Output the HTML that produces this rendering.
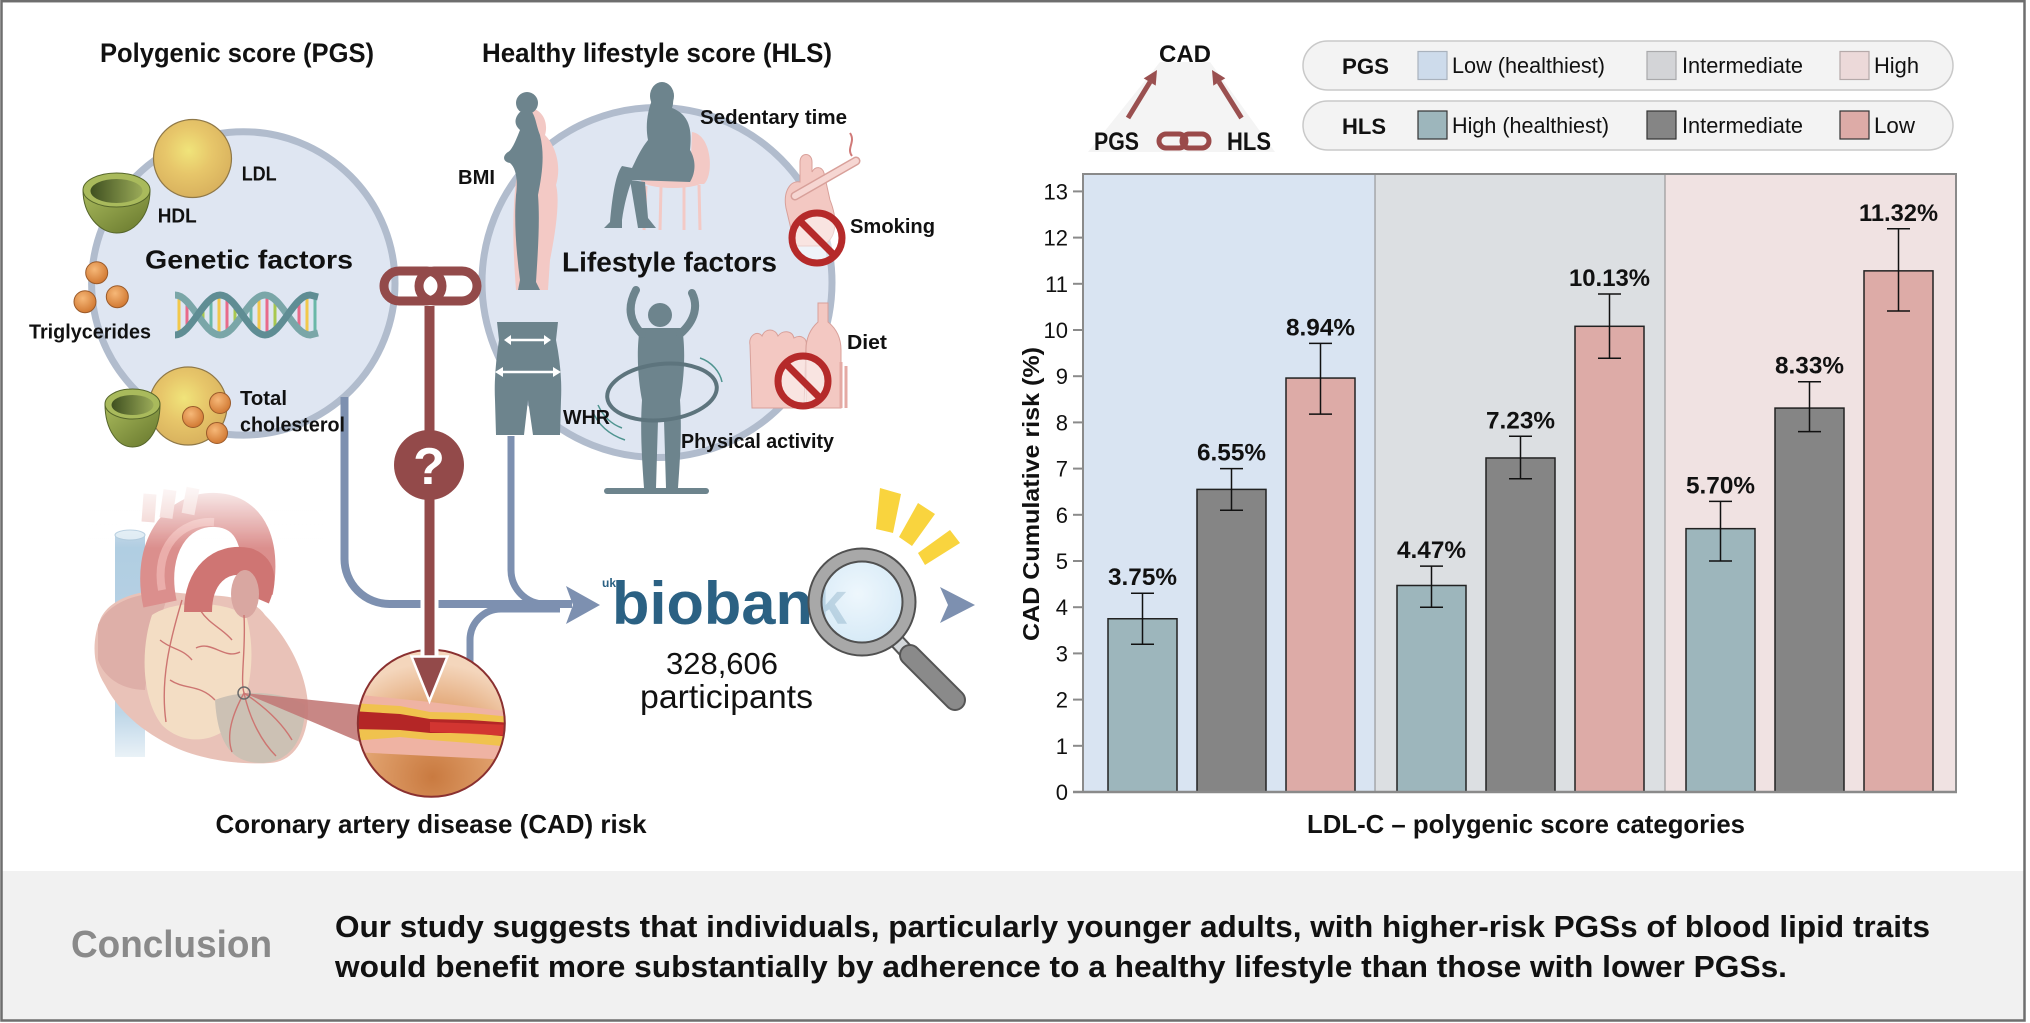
<!DOCTYPE html>
<html><head><meta charset="utf-8">
<style>
html,body{margin:0;padding:0;background:#fff;}
svg{display:block;}
text{font-family:"Liberation Sans",Arial,sans-serif;}
</style></head>
<body>
<svg width="2030" height="1023" viewBox="0 0 2030 1023" xmlns="http://www.w3.org/2000/svg">
<defs>
  <radialGradient id="ldl" cx="45%" cy="40%" r="60%">
    <stop offset="0" stop-color="#f0e47a"/><stop offset="0.5" stop-color="#e7c66a"/><stop offset="1" stop-color="#d9b25e"/>
  </radialGradient>
  <radialGradient id="orb" cx="40%" cy="35%" r="65%">
    <stop offset="0" stop-color="#f6b878"/><stop offset="1" stop-color="#d27a34"/>
  </radialGradient>
  <linearGradient id="bowl" x1="0" y1="0" x2="1" y2="1">
    <stop offset="0" stop-color="#a9ba5c"/><stop offset="1" stop-color="#66762c"/>
  </linearGradient>
  <linearGradient id="bowlIn" x1="0" y1="0" x2="1" y2="0">
    <stop offset="0" stop-color="#3f5020"/><stop offset="1" stop-color="#9aaa58"/>
  </linearGradient>
  <radialGradient id="art" cx="50%" cy="85%" r="75%">
    <stop offset="0" stop-color="#c97a40"/><stop offset="0.55" stop-color="#e0a06c"/><stop offset="1" stop-color="#f4d6bc"/>
  </radialGradient>
  <linearGradient id="fade" x1="0" y1="0" x2="0" y2="1">
    <stop offset="0" stop-color="#fff" stop-opacity="1"/><stop offset="1" stop-color="#fff" stop-opacity="0"/>
  </linearGradient>
  <linearGradient id="vc" x1="0" y1="0" x2="0" y2="1">
    <stop offset="0" stop-color="#a9c9df"/><stop offset="0.8" stop-color="#b8d3e6"/><stop offset="1" stop-color="#e8f1f7"/>
  </linearGradient>
  <radialGradient id="lens" cx="45%" cy="40%" r="60%">
    <stop offset="0" stop-color="#eaf5fc"/><stop offset="1" stop-color="#cfe6f5"/>
  </radialGradient>
  <clipPath id="artClip"><circle cx="431.3" cy="723.3" r="73.5"/></clipPath>
</defs>

<rect width="2030" height="1023" fill="#fff"/>

<!-- ===== Conclusion band ===== -->
<rect x="2" y="871" width="2022" height="149" fill="#f1f1f1"/>
<text x="71" y="957" font-size="38" font-weight="bold" fill="#8a8a8a" textLength="201" lengthAdjust="spacingAndGlyphs">Conclusion</text>
<text x="335" y="937" font-size="31" font-weight="bold" fill="#111" textLength="1595" lengthAdjust="spacingAndGlyphs">Our study suggests that individuals, particularly younger adults, with higher-risk PGSs of blood lipid traits</text>
<text x="335" y="977" font-size="31" font-weight="bold" fill="#111" textLength="1452" lengthAdjust="spacingAndGlyphs">would benefit more substantially by adherence to a healthy lifestyle than those with lower PGSs.</text>

<!-- frame -->
<rect x="1.5" y="1.2" width="2023" height="1019.3" fill="none" stroke="#6e6e6e" stroke-width="2.5"/>

<!-- ===== Left illustration ===== -->
<text x="100" y="62" font-size="27" font-weight="bold" fill="#111" textLength="274" lengthAdjust="spacingAndGlyphs">Polygenic score (PGS)</text>
<text x="482" y="62" font-size="27" font-weight="bold" fill="#111" textLength="350" lengthAdjust="spacingAndGlyphs">Healthy lifestyle score (HLS)</text>

<!-- circles -->
<circle cx="243.3" cy="283.4" r="151.7" fill="#dfe6f2" stroke="#b1bccd" stroke-width="7"/>
<circle cx="657" cy="282.5" r="175" fill="#dfe6f2" stroke="#b1bccd" stroke-width="7"/>

<!-- blue connectors -->
<g fill="none" stroke="#7d90b0" stroke-linecap="butt">
  <path d="M344.5 397 L344.5 559 A45 45 0 0 0 389.5 604 L572 604" stroke-width="8"/>
  <path d="M511 436 L511 570 A34 34 0 0 0 545 604" stroke-width="7"/>
  <path d="M470 662 L470 640 A31 31 0 0 1 501 609 L560 609" stroke-width="7"/>
</g>
<polygon points="566,586 600,605 566,624 573,605" fill="#7d90b0"/>

<!-- heart -->
<g opacity="0.92">
  <rect x="115" y="535" width="30" height="222" fill="url(#vc)"/>
  <ellipse cx="130" cy="535" rx="15" ry="5" fill="#d8e8f2" stroke="#9fbfd6" stroke-width="1"/>
  <path d="M100 620 C110 595,150 588,170 592 L200 595 C230 595,255 600,265 615 C290 640,310 680,308 715 C305 745,290 762,270 763 C240 765,200 760,170 745 C140 730,118 710,105 685 C92 665,92 640,100 620 Z" fill="#e8bdb3"/>
  <path d="M98 625 C110 598,150 590,168 595 C160 620,150 650,145 690 C125 690,105 680,98 660 Z" fill="#dca9a1"/>
  <path d="M152 615 C175 600,220 600,246 615 C256 650,252 690,236 720 C215 745,182 745,162 725 C142 700,140 650,152 615 Z" fill="#f2dbc0"/>
  <path d="M215 700 C240 690,280 690,305 705 C305 740,290 762,262 763 C236 763,218 750,215 700 Z" fill="#c8bcae"/>
  <path d="M160 604 C148 548,176 508,216 510 C252 512,264 546,256 592" fill="none" stroke="#d98684" stroke-width="34"/>
  <path d="M162 590 C154 548,180 520,214 522" fill="none" stroke="#eaa8a4" stroke-width="8"/>
  <path d="M198 612 C198 576,220 556,248 562 C264 568,262 584,256 598" fill="none" stroke="#cc6a68" stroke-width="28"/>
  <path d="M148 522 L150 494 M166 518 L170 490 M188 514 L193 488" stroke="#eec4c0" stroke-width="13" fill="none"/>
  <ellipse cx="245" cy="594" rx="14" ry="24" fill="#d6a09a"/>
  <g fill="none" stroke="#c96a66" stroke-width="1.4">
    <path d="M182 600 C170 640,160 680,166 722"/>
    <path d="M244 615 C246 650,240 680,244 693 C250 720,262 742,276 756"/>
    <path d="M196 648 C212 640,224 660,240 652"/>
    <path d="M170 680 C185 690,200 684,215 700"/>
    <path d="M244 693 C232 715,226 735,232 752"/>
    <path d="M244 693 C262 705,280 720,292 740"/>
    <path d="M200 610 C210 625,222 628,232 640"/>
    <path d="M160 640 C172 650,182 648,192 660"/>
  </g>
  <rect x="88" y="478" width="235" height="70" fill="url(#fade)"/>
</g>
<!-- zoom funnel -->
<polygon points="244,693 360,705 360,742" fill="#c27a78" opacity="0.9"/>
<circle cx="244" cy="693" r="6" fill="none" stroke="#6a6a6a" stroke-width="1.5"/>

<!-- artery circle -->
<g clip-path="url(#artClip)">
  <rect x="355" y="648" width="155" height="152" fill="url(#art)"/>
  <polygon points="352,694 430,702 512,712 512,760 430,756 352,752" fill="#efb3a3"/>
  <polygon points="352,703 400,706 430,712 470,713 512,717 512,747 470,743 430,740 400,737 352,741" fill="#f0c24e"/>
  <polygon points="352,711 400,714 430,719 470,720 512,723 512,737 470,733 430,733 400,730 352,729" fill="#b42626"/>
  <polygon points="430,722 512,725 512,736 430,732" fill="#d93a34" opacity="0.8"/>
</g>
<circle cx="431.3" cy="723.3" r="73.5" fill="none" stroke="#8a3030" stroke-width="2"/>

<!-- red question line -->
<line x1="429.5" y1="306" x2="429.5" y2="660" stroke="#fff" stroke-width="18"/>
<line x1="429.5" y1="306" x2="429.5" y2="662" stroke="#934a4a" stroke-width="10"/>
<polygon points="411.5,656.5 447.5,656.5 429.5,701" fill="#934a4a" stroke="#fff" stroke-width="2.5"/>
<circle cx="429" cy="465" r="35" fill="#934a4a"/>
<text x="429" y="484" font-size="52" font-weight="bold" fill="#fff" text-anchor="middle">?</text>

<!-- chain link -->
<g fill="none" stroke="#934a4a" stroke-width="9">
  <rect x="384" y="271" width="58" height="30" rx="15"/>
  <rect x="419" y="271" width="58" height="30" rx="15"/>
</g>

<!-- Genetic factor icons -->
<circle cx="192.5" cy="158.5" r="39" fill="url(#ldl)" stroke="#8f7848" stroke-width="1.2"/>
<path d="M83 190 C83 215,100 233,116.5 233 C135 233,150 215,150 190 Z" fill="url(#bowl)" stroke="#55652a" stroke-width="1"/>
<ellipse cx="116.5" cy="190" rx="33.5" ry="17" fill="#a9ba5c" stroke="#55652a" stroke-width="1"/>
<ellipse cx="116.5" cy="191" rx="26" ry="12" fill="url(#bowlIn)"/>
<circle cx="96.7" cy="272.7" r="11" fill="url(#orb)" stroke="#9a5a2a" stroke-width="1"/>
<circle cx="85" cy="301.7" r="11" fill="url(#orb)" stroke="#9a5a2a" stroke-width="1"/>
<circle cx="117.3" cy="296.7" r="11" fill="url(#orb)" stroke="#9a5a2a" stroke-width="1"/>

<!-- DNA -->
<g stroke-width="3">
  <line x1="179" y1="296" x2="179" y2="334" stroke="#f2c84b"/>
  <line x1="187" y1="302" x2="187" y2="328" stroke="#e86a8a"/>
  <line x1="203" y1="308" x2="203" y2="322" stroke="#a8c850"/>
  <line x1="211" y1="299" x2="211" y2="331" stroke="#6ab8a8"/>
  <line x1="219" y1="295" x2="219" y2="335" stroke="#f2c84b"/>
  <line x1="227" y1="297" x2="227" y2="333" stroke="#e86a8a"/>
  <line x1="235" y1="305" x2="235" y2="325" stroke="#a8c850"/>
  <line x1="251" y1="304" x2="251" y2="326" stroke="#6ab8a8"/>
  <line x1="259" y1="297" x2="259" y2="333" stroke="#f2c84b"/>
  <line x1="267" y1="295" x2="267" y2="335" stroke="#e86a8a"/>
  <line x1="275" y1="300" x2="275" y2="330" stroke="#a8c850"/>
  <line x1="299" y1="301" x2="299" y2="329" stroke="#e86a8a"/>
  <line x1="307" y1="296" x2="307" y2="334" stroke="#f2c84b"/>
  <line x1="315" y1="296" x2="315" y2="334" stroke="#6ab8a8"/>
</g>
<path d="M175 295 C191.4 295,203.6 335,220 335 C236.4 335,248.6 295,265 295 C281.4 295,293.6 335,310 335 L318 333" fill="none" stroke="#7aa6a8" stroke-width="7"/>
<path d="M175 335 C191.4 335,203.6 295,220 295 C236.4 295,248.6 335,265 335 C281.4 335,293.6 295,310 295 L318 297" fill="none" stroke="#5f8d94" stroke-width="7"/>

<!-- total cholesterol -->
<circle cx="188" cy="406" r="39" fill="url(#ldl)" stroke="#8f7848" stroke-width="1.2"/>
<path d="M105 404 C105 430,118 447,132.5 447 C148 447,160 430,160 404 Z" fill="url(#bowl)" stroke="#55652a" stroke-width="1"/>
<ellipse cx="132.5" cy="404" rx="27.5" ry="15" fill="#a9ba5c" stroke="#55652a" stroke-width="1"/>
<ellipse cx="132.5" cy="405" rx="21" ry="10" fill="url(#bowlIn)"/>
<circle cx="220" cy="403" r="10.5" fill="url(#orb)" stroke="#9a5a2a" stroke-width="1"/>
<circle cx="193" cy="417" r="10.5" fill="url(#orb)" stroke="#9a5a2a" stroke-width="1"/>
<circle cx="217" cy="433" r="10.5" fill="url(#orb)" stroke="#9a5a2a" stroke-width="1"/>

<!-- genetic labels -->
<g font-weight="bold" fill="#111">
  <text x="241.7" y="180.7" font-size="20" textLength="35" lengthAdjust="spacingAndGlyphs">LDL</text>
  <text x="157.7" y="222.7" font-size="20" textLength="39" lengthAdjust="spacingAndGlyphs">HDL</text>
  <text x="145" y="268.3" font-size="26" textLength="208" lengthAdjust="spacingAndGlyphs">Genetic factors</text>
  <text x="29" y="338.3" font-size="20" textLength="122" lengthAdjust="spacingAndGlyphs">Triglycerides</text>
  <text x="240" y="405" font-size="20" textLength="47" lengthAdjust="spacingAndGlyphs">Total</text>
  <text x="240" y="431.7" font-size="20" textLength="105" lengthAdjust="spacingAndGlyphs">cholesterol</text>
</g>

<!-- Lifestyle figures -->
<g fill="#6d848d">
  <!-- BMI -->
  <path d="M532 108 C545 112,548 125,545 135 C555 145,562 165,556 185 C560 200,556 230,550 260 L548 290 L530 290 Z" fill="#f3c9c5"/>
  <path d="M520 160 C512 190,512 240,516 290 L526 290 Z" fill="#f3c9c5"/>
  <circle cx="527" cy="103" r="11"/>
  <path d="M520 112 C514 118,514 125,520 130 C516 140,512 150,508 152 C502 156,503 162,510 163 C516 168,518 180,516 195 C514 220,516 250,520 280 L518 290 L540 290 L536 282 C538 250,540 220,538 195 C542 175,545 155,540 135 C536 125,536 118,532 112 Z"/>
  <!-- chair -->
  <path d="M692 132 C712 135,714 175,704 184 L690 184 Z" fill="#f3c9c5"/>
  <ellipse cx="673" cy="180" rx="32" ry="8" fill="#f3c9c5"/>
  <g stroke="#f3c9c5" stroke-width="3"><line x1="646" y1="186" x2="644" y2="230"/><line x1="661" y1="187" x2="660" y2="230"/><line x1="684" y1="187" x2="684" y2="230"/><line x1="699" y1="185" x2="700" y2="230"/></g>
  <!-- sitting woman -->
  <ellipse cx="662" cy="96" rx="12" ry="14"/>
  <path d="M652 100 C648 110,645 125,648 140 C640 150,636 160,632 168 L622 166 C615 175,612 200,610 222 L604 228 L622 228 L622 220 C624 205,628 190,632 180 L690 182 C696 172,696 160,690 150 C692 130,690 115,672 108 C675 100,672 90,665 84 C655 82,650 90,652 100 Z"/>
  <path d="M630 180 L638 228 L656 228 L648 218 L645 182 Z"/>
  <!-- WHR shorts -->
  <path d="M497 322 L558 322 L556 340 C560 360,562 380,561 400 L560 435 L533 435 L528 400 L524 435 L496 435 L495 400 C494 380,496 360,499 340 Z"/>
  <!-- hula -->
  <rect x="604" y="488" width="105" height="6" rx="3"/>
  <circle cx="660" cy="315" r="12"/>
  <path d="M640 328 C636 350,638 380,642 400 C640 430,642 460,644 488 L656 488 L658 420 L664 420 L666 488 L678 488 C680 460,682 430,680 400 C684 380,686 350,682 328 Z"/>
  <path d="M642 334 C628 320,628 305,636 290 M680 334 C696 320,698 305,692 293" fill="none" stroke="#6d848d" stroke-width="8" stroke-linecap="round"/>
  <ellipse cx="662" cy="392" rx="55" ry="28" fill="none" stroke="#5d747d" stroke-width="4" transform="rotate(-6 662 392)"/>
  <path d="M592 410 C598 425,610 435,625 440 M598 405 C603 416,611 424,622 428 M700 358 C712 362,720 372,722 382" fill="none" stroke="#4f9490" stroke-width="1.5"/>
</g>
<g stroke="#fff" stroke-width="2.5" fill="#fff">
  <line x1="509" y1="340" x2="546" y2="340"/>
  <polygon points="504,340 511,335 511,345" stroke="none"/><polygon points="551,340 544,335 544,345" stroke="none"/>
  <line x1="500" y1="372" x2="556" y2="372"/>
  <polygon points="495,372 503,367 503,377" stroke="none"/><polygon points="561,372 553,367 553,377" stroke="none"/>
</g>

<!-- smoking -->
<path d="M786 208 C783 192,790 180,800 182 L800 162 C800 152,812 152,812 162 L812 172 C815 166,822 166,824 173 L830 200 C836 215,840 240,820 246 L795 246 Z" fill="#f3c8c2" stroke="#d8a09a" stroke-width="1"/>
<line x1="795" y1="196" x2="856" y2="161" stroke="#d8a09a" stroke-width="9" stroke-linecap="round"/>
<line x1="795" y1="196" x2="856" y2="161" stroke="#f6d6d2" stroke-width="6" stroke-linecap="round"/>
<path d="M852 156 C846 148,856 142,850 133" fill="none" stroke="#d07a78" stroke-width="2"/>
<circle cx="817" cy="238" r="25" fill="#fff" fill-opacity="0.5" stroke="#b52a2a" stroke-width="7"/>
<line x1="800" y1="221" x2="834" y2="255" stroke="#b52a2a" stroke-width="7"/>

<!-- diet -->
<path d="M750 345 C748 335,758 330,762 336 C765 328,775 328,778 336 C782 330,792 330,794 338 C800 334,808 338,806 346 L804 408 L752 408 Z" fill="#f3c8c2" stroke="#d8a09a" stroke-width="1"/>
<path d="M818 303 L828 303 L828 322 C838 330,841 340,841 350 L841 408 L806 408 L806 350 C806 340,809 330,818 322 Z" fill="#f3c8c2" stroke="#d8a09a" stroke-width="1"/>
<g stroke="#e4aaa4" stroke-width="3"><line x1="841" y1="362" x2="841" y2="408"/><line x1="846" y1="366" x2="846" y2="408"/></g>
<circle cx="803" cy="381" r="25" fill="#fff" fill-opacity="0.5" stroke="#b52a2a" stroke-width="7"/>
<line x1="786" y1="364" x2="820" y2="398" stroke="#b52a2a" stroke-width="7"/>

<!-- lifestyle labels -->
<g font-weight="bold" fill="#111">
  <text x="458" y="184" font-size="20" textLength="37" lengthAdjust="spacingAndGlyphs">BMI</text>
  <text x="700" y="124" font-size="20" textLength="147" lengthAdjust="spacingAndGlyphs">Sedentary time</text>
  <text x="850" y="233" font-size="20" textLength="85" lengthAdjust="spacingAndGlyphs">Smoking</text>
  <text x="562" y="271.7" font-size="28" textLength="215" lengthAdjust="spacingAndGlyphs">Lifestyle factors</text>
  <text x="847" y="349" font-size="20" textLength="40" lengthAdjust="spacingAndGlyphs">Diet</text>
  <text x="563" y="424" font-size="20" textLength="47" lengthAdjust="spacingAndGlyphs">WHR</text>
  <text x="681" y="448" font-size="20" textLength="153" lengthAdjust="spacingAndGlyphs">Physical activity</text>
  <text x="215.5" y="833" font-size="26" textLength="431" lengthAdjust="spacingAndGlyphs">Coronary artery disease (CAD) risk</text>
</g>

<!-- biobank -->
<text x="602" y="587" font-size="12" font-weight="bold" fill="#2b6183">uk</text>
<text x="612" y="624" font-size="60" font-weight="bold" fill="#2b6183" textLength="235" lengthAdjust="spacingAndGlyphs">biobank</text>
<text x="666" y="674" font-size="31" fill="#111" textLength="112" lengthAdjust="spacingAndGlyphs">328,606</text>
<text x="640" y="708" font-size="33" fill="#111" textLength="173" lengthAdjust="spacingAndGlyphs">participants</text>

<!-- magnifier -->
<polygon points="880,488 901,494 893,533 876,529" fill="#f9d43e"/>
<polygon points="918,503 935,514 912,546 899,537" fill="#f9d43e"/>
<polygon points="950,530 960,543 925,565 918,553" fill="#f9d43e"/>
<line x1="893" y1="637" x2="906" y2="651" stroke="#555" stroke-width="16"/>
<line x1="893" y1="637" x2="906" y2="651" stroke="#d3d7da" stroke-width="12"/>
<line x1="910" y1="655" x2="955" y2="700" stroke="#555" stroke-width="22" stroke-linecap="round"/>
<line x1="910" y1="655" x2="955" y2="700" stroke="#8a8a8a" stroke-width="18" stroke-linecap="round"/>
<circle cx="862" cy="602" r="40" fill="url(#lens)" fill-opacity="0.82"/>
<circle cx="862" cy="602" r="47" fill="none" stroke="#a8a8a8" stroke-width="13"/>
<circle cx="862" cy="602" r="53.5" fill="none" stroke="#505050" stroke-width="2"/>
<circle cx="862" cy="602" r="40.5" fill="none" stroke="#505050" stroke-width="2"/>
<polygon points="940,587 975,605 940,623 948,605" fill="#7d90b0"/>

<!-- ===== Right: CAD triangle & legend ===== -->
<polygon points="1160,62 1210,62 1275,152 1088,152" fill="#f4f4f4"/>
<text x="1185" y="62" font-size="24" font-weight="bold" fill="#111" text-anchor="middle" textLength="52" lengthAdjust="spacingAndGlyphs">CAD</text>
<text x="1094" y="150" font-size="25" font-weight="bold" fill="#111" textLength="45" lengthAdjust="spacingAndGlyphs">PGS</text>
<text x="1227" y="150" font-size="25" font-weight="bold" fill="#111" textLength="44" lengthAdjust="spacingAndGlyphs">HLS</text>
<g stroke="#9a5050" stroke-width="5" fill="none">
  <line x1="1128" y1="118" x2="1150" y2="82"/>
  <line x1="1241.5" y1="118" x2="1219" y2="82"/>
</g>
<polygon points="1157,70 1155.7,85.6 1143.7,78.4" fill="#9a5050"/>
<polygon points="1212,70 1225.3,78.2 1213.3,85.6" fill="#9a5050"/>
<g fill="none" stroke="#9a4a4a" stroke-width="5">
  <rect x="1159" y="134" width="27" height="14" rx="7"/>
  <rect x="1182" y="134" width="27" height="14" rx="7"/>
</g>

<rect x="1303" y="41" width="650" height="49" rx="24.5" fill="#f3f3f3" stroke="#c9c9c9" stroke-width="1.5"/>
<rect x="1303" y="101" width="650" height="49" rx="24.5" fill="#f3f3f3" stroke="#c9c9c9" stroke-width="1.5"/>
<text x="1342" y="74" font-size="22" font-weight="bold" fill="#111" textLength="47" lengthAdjust="spacingAndGlyphs">PGS</text>
<text x="1342" y="134" font-size="22" font-weight="bold" fill="#111" textLength="44" lengthAdjust="spacingAndGlyphs">HLS</text>
<rect x="1418" y="51.5" width="29" height="28" fill="#cddbeb" stroke="#a9b2bd" stroke-width="1.2"/>
<rect x="1647" y="51.5" width="29" height="28" fill="#d3d4d7" stroke="#a9a9ab" stroke-width="1.2"/>
<rect x="1840" y="51.5" width="29" height="28" fill="#ecd9d9" stroke="#b5a9a9" stroke-width="1.2"/>
<rect x="1418" y="111" width="29" height="28" fill="#9db6bc" stroke="#333" stroke-width="1.2"/>
<rect x="1647" y="111" width="29" height="28" fill="#858585" stroke="#333" stroke-width="1.2"/>
<rect x="1840" y="111" width="29" height="28" fill="#ddaba7" stroke="#333" stroke-width="1.2"/>
<g font-size="22" fill="#111">
  <text x="1452" y="73" textLength="153" lengthAdjust="spacingAndGlyphs">Low (healthiest)</text>
  <text x="1682" y="73" textLength="121" lengthAdjust="spacingAndGlyphs">Intermediate</text>
  <text x="1874" y="73" textLength="45" lengthAdjust="spacingAndGlyphs">High</text>
  <text x="1452" y="133" textLength="157" lengthAdjust="spacingAndGlyphs">High (healthiest)</text>
  <text x="1682" y="133" textLength="121" lengthAdjust="spacingAndGlyphs">Intermediate</text>
  <text x="1874" y="133" textLength="41" lengthAdjust="spacingAndGlyphs">Low</text>
</g>

<!-- ===== Bar chart ===== -->
<rect x="1084" y="174" width="291" height="618" fill="#d9e4f2"/>
<rect x="1375" y="174" width="290" height="618" fill="#dcdfe2"/>
<rect x="1665" y="174" width="291" height="618" fill="#f0e2e2"/>
<line x1="1375" y1="174" x2="1375" y2="792" stroke="#8a8a8a" stroke-width="1"/>
<line x1="1665" y1="174" x2="1665" y2="792" stroke="#8a8a8a" stroke-width="1"/>
<line x1="1083" y1="174" x2="1956" y2="174" stroke="#8a8a8a" stroke-width="2"/>
<line x1="1956" y1="173" x2="1956" y2="792" stroke="#8a8a8a" stroke-width="2"/>
<line x1="1083" y1="173" x2="1083" y2="793" stroke="#8a8a8a" stroke-width="2"/>

<!-- bars -->
<g stroke="#222" stroke-width="1.5">
  <rect x="1108" y="618.75" width="69" height="173.25" fill="#9db6bc"/>
  <rect x="1197" y="489.39" width="69" height="302.61" fill="#858585"/>
  <rect x="1286" y="378.05" width="69" height="413.95" fill="#ddaba7"/>
  <rect x="1397" y="585.49" width="69" height="206.51" fill="#9db6bc"/>
  <rect x="1486" y="457.97" width="69" height="334.03" fill="#858585"/>
  <rect x="1575" y="326.30" width="69" height="465.70" fill="#ddaba7"/>
  <rect x="1686" y="528.66" width="69" height="263.34" fill="#9db6bc"/>
  <rect x="1775" y="408.08" width="69" height="383.92" fill="#858585"/>
  <rect x="1864" y="270.86" width="69" height="521.14" fill="#ddaba7"/>
</g>
<!-- error bars -->
<g stroke="#111" stroke-width="1.5" fill="none">
  <path d="M1142.5 593.3 V644.2 M1131 593.3 H1154 M1131 644.2 H1154"/>
  <path d="M1231.5 468.6 V510.2 M1220 468.6 H1243 M1220 510.2 H1243"/>
  <path d="M1320.5 343.4 V414.1 M1309 343.4 H1332 M1309 414.1 H1332"/>
  <path d="M1431.5 566.1 V607.2 M1420 566.1 H1443 M1420 607.2 H1443"/>
  <path d="M1520.5 436.3 V478.8 M1509 436.3 H1532 M1509 478.8 H1532"/>
  <path d="M1609.5 294.0 V358.2 M1598 294.0 H1621 M1598 358.2 H1621"/>
  <path d="M1720.5 501.4 V561.0 M1709 501.4 H1732 M1709 561.0 H1732"/>
  <path d="M1809.5 381.7 V431.6 M1798 381.7 H1821 M1798 431.6 H1821"/>
  <path d="M1898.5 228.8 V311.0 M1887 228.8 H1910 M1887 311.0 H1910"/>
</g>
<!-- value labels -->
<g font-size="24" font-weight="bold" fill="#111" text-anchor="middle">
  <text x="1142.5" y="585" textLength="69" lengthAdjust="spacingAndGlyphs">3.75%</text>
  <text x="1231.5" y="460.5" textLength="69" lengthAdjust="spacingAndGlyphs">6.55%</text>
  <text x="1320.5" y="335.5" textLength="69" lengthAdjust="spacingAndGlyphs">8.94%</text>
  <text x="1431.5" y="558" textLength="69" lengthAdjust="spacingAndGlyphs">4.47%</text>
  <text x="1520.5" y="428.5" textLength="69" lengthAdjust="spacingAndGlyphs">7.23%</text>
  <text x="1609.5" y="286" textLength="81" lengthAdjust="spacingAndGlyphs">10.13%</text>
  <text x="1720.5" y="493.5" textLength="69" lengthAdjust="spacingAndGlyphs">5.70%</text>
  <text x="1809.5" y="373.5" textLength="69" lengthAdjust="spacingAndGlyphs">8.33%</text>
  <text x="1898.5" y="221" textLength="79" lengthAdjust="spacingAndGlyphs">11.32%</text>
</g>

<!-- x axis -->
<line x1="1073" y1="792" x2="1957" y2="792" stroke="#8a8a8a" stroke-width="2.5"/>
<!-- ticks -->
<g stroke="#8a8a8a" stroke-width="2">
  <line x1="1073" y1="745.8" x2="1083" y2="745.8"/>
  <line x1="1073" y1="699.6" x2="1083" y2="699.6"/>
  <line x1="1073" y1="653.4" x2="1083" y2="653.4"/>
  <line x1="1073" y1="607.2" x2="1083" y2="607.2"/>
  <line x1="1073" y1="561.0" x2="1083" y2="561.0"/>
  <line x1="1073" y1="514.8" x2="1083" y2="514.8"/>
  <line x1="1073" y1="468.6" x2="1083" y2="468.6"/>
  <line x1="1073" y1="422.4" x2="1083" y2="422.4"/>
  <line x1="1073" y1="376.2" x2="1083" y2="376.2"/>
  <line x1="1073" y1="330.0" x2="1083" y2="330.0"/>
  <line x1="1073" y1="283.8" x2="1083" y2="283.8"/>
  <line x1="1073" y1="237.6" x2="1083" y2="237.6"/>
  <line x1="1073" y1="191.4" x2="1083" y2="191.4"/>
</g>
<g font-size="22" fill="#111" text-anchor="end">
  <text x="1068" y="800">0</text>
  <text x="1068" y="753.8">1</text>
  <text x="1068" y="707.6">2</text>
  <text x="1068" y="661.4">3</text>
  <text x="1068" y="615.2">4</text>
  <text x="1068" y="569">5</text>
  <text x="1068" y="522.8">6</text>
  <text x="1068" y="476.6">7</text>
  <text x="1068" y="430.4">8</text>
  <text x="1068" y="384.2">9</text>
  <text x="1068" y="338">10</text>
  <text x="1068" y="291.8">11</text>
  <text x="1068" y="245.6">12</text>
  <text x="1068" y="199.4">13</text>
</g>
<text transform="translate(1039,494) rotate(-90)" font-size="23" font-weight="bold" fill="#111" text-anchor="middle" textLength="294" lengthAdjust="spacingAndGlyphs">CAD Cumulative risk (%)</text>
<text x="1526" y="833" font-size="26" font-weight="bold" fill="#111" text-anchor="middle" textLength="438" lengthAdjust="spacingAndGlyphs">LDL-C – polygenic score categories</text>
</svg>
</body></html>
